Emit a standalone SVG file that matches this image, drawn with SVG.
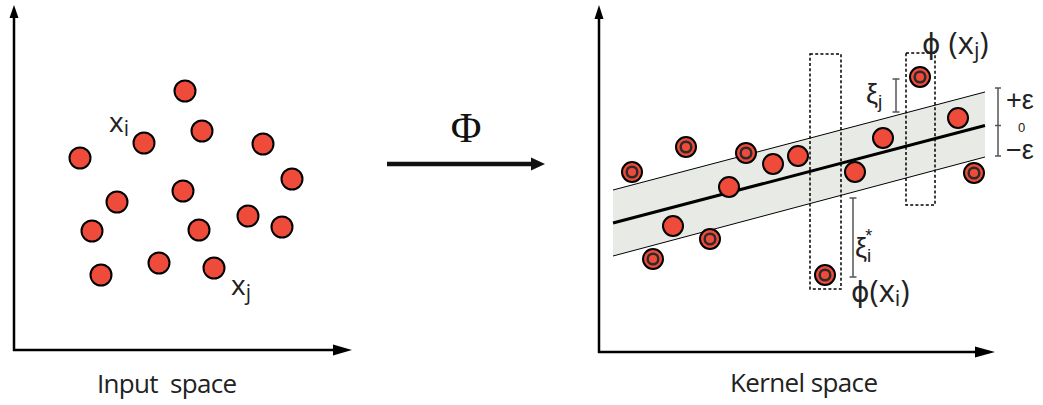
<svg xmlns="http://www.w3.org/2000/svg" width="1043" height="405" viewBox="0 0 1043 405">
<style>
.axis{stroke:#000;stroke-width:2.5;fill:none}
.pt{fill:#EF4B3B;stroke:#000;stroke-width:2}
.inner{fill:#EF4B3B;stroke:#2b2b2b;stroke-width:2.5}
.lbl{font-family:"Open Sans",Lato,sans-serif;fill:#222}
.gr{font-family:"Liberation Sans","DejaVu Sans",sans-serif;fill:#222}
.box{fill:none;stroke:#000;stroke-width:1.5;stroke-dasharray:3 2.2}
.brk{stroke:#555;stroke-width:1.5;fill:none}
</style>
<defs>
<g id="dbl"><circle r="10" class="pt"/><circle r="5.3" class="inner"/></g>
</defs>
<rect width="1043" height="405" fill="#fff"/>

<g id="left-axes">
<path class="axis" d="M14,351 V17 M13,350 H334"/>
<polygon points="14,5 9.5,18 18.5,18"/>
<polygon points="352,350 333,344.5 333,355.5"/>
</g>

<g id="input-points">
<circle class="pt" cx="185" cy="91" r="10.5"/>
<circle class="pt" cx="202" cy="131" r="10.5"/>
<circle class="pt" cx="144" cy="143" r="10.5"/>
<circle class="pt" cx="80" cy="158" r="10.5"/>
<circle class="pt" cx="263" cy="144" r="10.5"/>
<circle class="pt" cx="292" cy="179" r="10.5"/>
<circle class="pt" cx="117" cy="202" r="10.5"/>
<circle class="pt" cx="183" cy="191" r="10.5"/>
<circle class="pt" cx="92" cy="231" r="10.5"/>
<circle class="pt" cx="199" cy="230" r="10.5"/>
<circle class="pt" cx="248" cy="216" r="10.5"/>
<circle class="pt" cx="282" cy="227" r="10.5"/>
<circle class="pt" cx="101" cy="275" r="10.5"/>
<circle class="pt" cx="159" cy="263" r="10.5"/>
<circle class="pt" cx="214" cy="268" r="10.5"/>
</g>

<g id="input-labels">
<text class="lbl" x="109" y="132" font-size="28">x<tspan font-size="21" dy="4">i</tspan></text>
<text class="lbl" x="231" y="295" font-size="28">x<tspan font-size="21" dy="5">j</tspan></text>
<text class="lbl" x="97" y="393" font-size="26" xml:space="preserve" textLength="140" lengthAdjust="spacing">Input  space</text>
</g>

<g id="mapping">
<text x="466" y="142" font-family="'Liberation Serif',serif" font-size="42" text-anchor="middle" fill="#111">Φ</text>
<line x1="387" y1="164" x2="534" y2="164" stroke="#111" stroke-width="4.5"/>
<polygon points="531,157.5 545,164 531,170.5" fill="#111"/>
</g>

<g id="right-axes">
<path class="axis" d="M599,353 V19 M598,352 H976"/>
<polygon points="599,5 594.5,19 603.5,19"/>
<polygon points="995,352 975,346.5 975,357.5"/>
</g>

<g id="band">
<polygon points="613,190 985,92 985,157 613,256" fill="#E8EAE6"/>
<line x1="613" y1="190" x2="985" y2="92" stroke="#000" stroke-width="1"/>
<line x1="613" y1="256" x2="985" y2="157" stroke="#000" stroke-width="1"/>
<line x1="613" y1="223" x2="985" y2="125.5" stroke="#000" stroke-width="3"/>
</g>

<g id="boxes">
<rect class="box" x="810" y="54" width="31" height="235"/>
<rect class="box" x="906" y="53" width="29" height="152"/>
</g>

<g id="kernel-points">
<use href="#dbl" x="632" y="172"/>
<use href="#dbl" x="686" y="147"/>
<use href="#dbl" x="746" y="153"/>
<circle class="pt" cx="773" cy="164" r="10"/>
<circle class="pt" cx="798" cy="156" r="10"/>
<circle class="pt" cx="729" cy="187" r="10"/>
<circle class="pt" cx="855" cy="172" r="10"/>
<circle class="pt" cx="883" cy="138" r="10"/>
<circle class="pt" cx="958" cy="118" r="10"/>
<use href="#dbl" x="974" y="173"/>
<use href="#dbl" x="920" y="77"/>
<circle class="pt" cx="673" cy="226" r="10"/>
<use href="#dbl" x="710" y="239"/>
<use href="#dbl" x="653" y="259"/>
<use href="#dbl" x="825" y="275"/>
</g>

<g id="scale">
<path class="brk" d="M998,88 V156 M995,88 H1001 M995,125.5 H1001 M995,156 H1001"/>
<text class="gr" x="1006" y="109" font-size="27">+ε</text>
<text class="gr" x="1018" y="132" font-size="13">0</text>
<text class="gr" x="1006" y="159" font-size="27">−ε</text>
</g>

<g id="slacks">
<path class="brk" d="M896,79 V112 M892.5,79 H899.5 M892.5,112 H899.5"/>
<text class="gr" x="866" y="103" font-size="27">ξ<tspan font-size="19" dy="5">j</tspan></text>
<path class="brk" d="M853,198 V277 M849.5,198 H856.5 M849.5,277 H856.5"/>
<text class="gr" x="855" y="257" font-size="27">ξ<tspan font-size="19" dy="5">i</tspan><tspan font-size="18" dx="-6" dy="-20">*</tspan></text>
</g>

<g id="kernel-labels">
<text class="lbl" x="851" y="302" font-size="31"><tspan font-family="'DejaVu Sans',sans-serif" font-size="28">ϕ</tspan>(x<tspan font-size="22" dy="4">i</tspan><tspan dy="-4">)</tspan></text>
<text class="lbl" x="922" y="54" font-size="31"><tspan font-family="'DejaVu Sans',sans-serif" font-size="28">ϕ</tspan> (x<tspan font-size="22" dy="4">j</tspan><tspan dy="-4">)</tspan></text>
<text class="lbl" x="730" y="392" font-size="26" textLength="148" lengthAdjust="spacing">Kernel space</text>
</g>
</svg>
